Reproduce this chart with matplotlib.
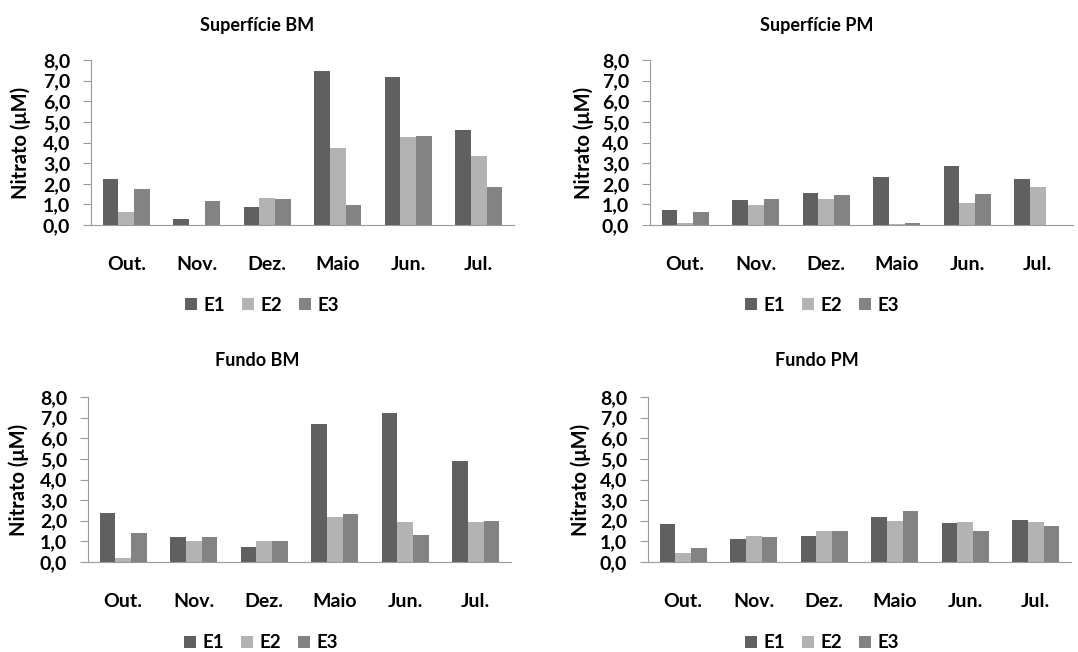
import matplotlib.pyplot as plt
import numpy as np

plt.rcParams['font.family'] = ['Lato', 'DejaVu Sans']
plt.rcParams['font.weight'] = 'bold'

months = ['Out.', 'Nov.', 'Dez.', 'Maio', 'Jun.', 'Jul.']
series = ['E1', 'E2', 'E3']
colors = ['#606060', '#b3b3b3', '#838383']

# nitrate values (E1, E2, E3 per month)
sup_bm_e1 = [2.21, 0.27, 0.89, 7.46, 7.17, 4.59]
sup_bm_e2 = [0.65, 0.0, 1.31, 3.75, 4.26, 3.34]
sup_bm_e3 = [1.73, 1.16, 1.26, 0.99, 4.31, 1.83]

sup_pm_e1 = [0.71, 1.21, 1.55, 2.34, 2.84, 2.21]
sup_pm_e2 = [0.08, 0.99, 1.26, 0.05, 1.05, 1.83]
sup_pm_e3 = [0.65, 1.26, 1.44, 0.10, 1.49, 0.0]

fun_bm_e1 = [2.39, 1.19, 0.74, 6.68, 7.24, 4.92]
fun_bm_e2 = [0.18, 1.02, 1.02, 2.16, 1.92, 1.92]
fun_bm_e3 = [1.42, 1.19, 1.02, 2.32, 1.31, 1.98]

fun_pm_e1 = [1.82, 1.10, 1.26, 2.16, 1.89, 2.05]
fun_pm_e2 = [0.45, 1.26, 1.48, 2.00, 1.92, 1.92]
fun_pm_e3 = [0.69, 1.21, 1.48, 2.45, 1.48, 1.73]

# title, data, axes box (left px, y0 px, y8 px), ylabel x px, title xy, legend xy
panels = [
    ('Superfície BM', [sup_bm_e1, sup_bm_e2, sup_bm_e3], (91, 225, 60), 21, (257, 25), (262, 305)),
    ('Superfície PM', [sup_pm_e1, sup_pm_e2, sup_pm_e3], (650, 225, 60), 584, (817, 25), (822, 305)),
    ('Fundo BM', [fun_bm_e1, fun_bm_e2, fun_bm_e3], (88, 562, 397), 19, (257, 361), (261, 643)),
    ('Fundo PM', [fun_pm_e1, fun_pm_e2, fun_pm_e3], (648, 562, 397), 581, (817, 361), (822, 643)),
]

W, H = 1078, 652
fig = plt.figure(figsize=(W / 100, H / 100), dpi=100)
axis_grey = '#9a9a9a'
x = np.arange(len(months))
bw = 1 / 4.5
aw = 423

for title, vals, (left, y0, y8), ylx, (tx, ty), (lx, ly) in panels:
    ax = fig.add_axes([left / W, 1 - y0 / H, aw / W, (y0 - y8) / H])
    for i, (v, c) in enumerate(zip(vals, colors)):
        ax.bar(x + (i - 1) * bw, v, bw, color=c, label=series[i], edgecolor='none')
    ax.set_xlim(-0.5, len(months) - 0.5)
    ax.set_ylim(0, 8)
    ax.set_yticks(np.arange(0, 9, 1))
    ax.set_yticklabels([f'{t:.1f}'.replace('.', ',') for t in range(9)], fontsize=14, fontweight='bold')
    ax.set_xticks(x)
    ax.set_xticklabels(months, fontsize=14, fontweight='bold')
    ax.tick_params(axis='x', length=0, pad=22)
    ax.tick_params(axis='y', length=6, color=axis_grey, direction='out', pad=9)
    for s in ['top', 'right']:
        ax.spines[s].set_visible(False)
    ax.spines['left'].set_color(axis_grey)
    ax.spines['bottom'].set_color(axis_grey)
    ax.set_ylabel('Nitrato (μM)', fontsize=14.5, fontweight='bold', va='center')
    ax.yaxis.set_label_coords((ylx - left) / aw, 0.5)
    fig.text(tx / W, 1 - ty / H, title, ha='center', va='center', fontsize=13, fontweight='bold')
    fig.legend(*ax.get_legend_handles_labels(), loc='center', bbox_to_anchor=(lx / W, 1 - ly / H),
               ncol=3, frameon=False, handlelength=0.65, handleheight=0.65,
               handletextpad=0.35, columnspacing=0.9, prop={'weight': 'bold', 'size': 13.5})

fig.savefig('out.png', dpi=100)
